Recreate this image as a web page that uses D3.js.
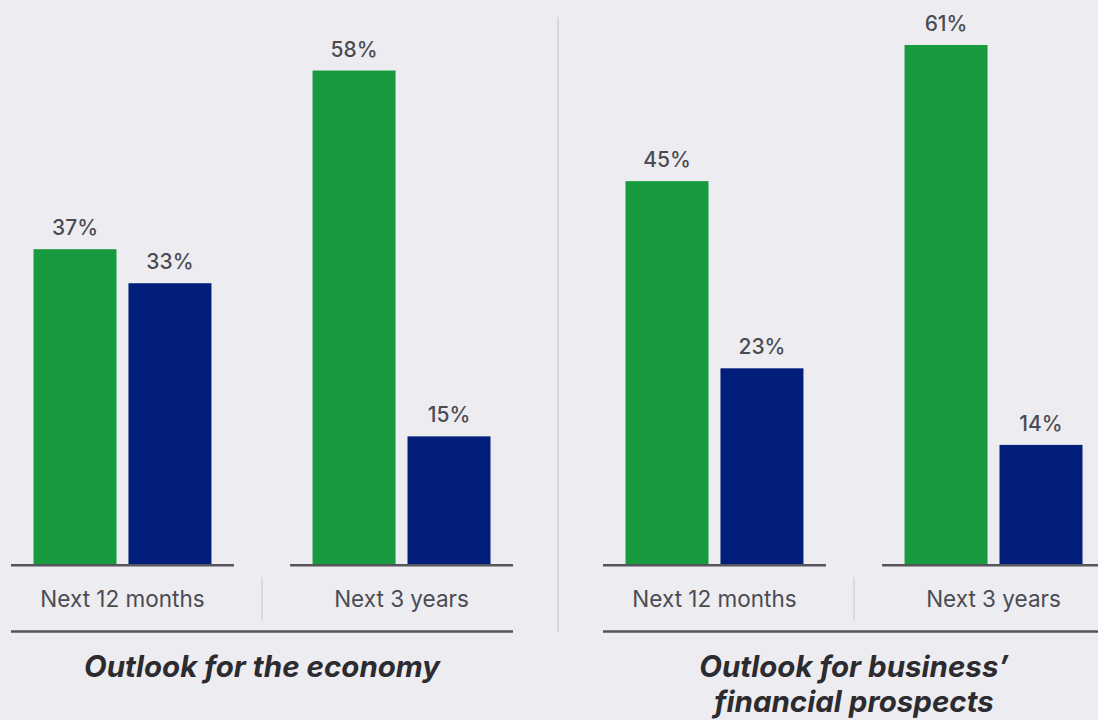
<!DOCTYPE html>
<html>
<head>
<meta charset="utf-8">
<script src="https://cdn.jsdelivr.net/npm/d3@7"></script>
<style>
  html, body { margin: 0; padding: 0; background: #edecf1; }
  svg { display: block; }
  text { font-family: Inter, "Noto Sans", sans-serif; }
</style>
</head>
<body>
<svg id="chart" width="1098" height="720"></svg>
<script>
// Survey outlook: share of respondents per horizon (%)
const panels = ["economy", "business"];
const panelTitles = [["Outlook for the economy"], ["Outlook for business\u2019", "financial prospects"]];
const periods = ["Next 12 months", "Next 3 years"];
const seriesKeys = ["optimistic", "pessimistic"];
const economyValues = [[37, 33], [58, 15]];       // [period][series]
const businessValues = [[45, 23], [61, 14]];
const panelValues = [economyValues, businessValues];

const colors = { optimistic: "#179b3e", pessimistic: "#001e7a" };
const ink = "#4b4b53";
const ruleColor = "#55555c";

const svg = d3.select("#chart");
const baseY = 564;

const y = d3.scaleLinear().domain([0, 61]).range([baseY, 45]);

const xPanel = d3.scaleBand().domain(panels).range([11, 1105]).paddingInner(0.152);
const xPeriod = d3.scaleBand().domain(periods).range([0, xPanel.bandwidth()]).paddingInner(0.201);
const xSeries = d3.scaleBand().domain(seriesKeys).range([0, xPeriod.bandwidth()])
  .paddingInner(0.126).paddingOuter(0.237);

// divider between the two panels
const divX = (xPanel(panels[0]) + xPanel.bandwidth() + xPanel(panels[1])) / 2;
svg.append("line")
  .attr("x1", divX).attr("x2", divX)
  .attr("y1", 17).attr("y2", 632)
  .attr("stroke", "#d2d1d8").attr("stroke-width", 1.5);

panels.forEach((p, pi) => {
  const g = svg.append("g").attr("transform", `translate(${xPanel(p)},0)`);
  const vals = panelValues[pi];

  periods.forEach((per, ki) => {
    const pg = g.append("g").attr("transform", `translate(${xPeriod(per)},0)`);
    const data = seriesKeys.map((s, si) => ({ key: s, value: vals[ki][si] }));

    pg.selectAll("rect").data(data).join("rect")
      .attr("x", d => xSeries(d.key))
      .attr("y", d => y(d.value))
      .attr("width", xSeries.bandwidth())
      .attr("height", d => baseY - y(d.value))
      .attr("fill", d => colors[d.key]);

    pg.selectAll("text.val").data(data).join("text")
      .attr("class", "val")
      .attr("x", d => xSeries(d.key) + xSeries.bandwidth() / 2)
      .attr("y", d => y(d.value) - 14)
      .attr("text-anchor", "middle")
      .attr("font-size", 21)
      .attr("font-weight", 500)
      .attr("fill", ink)
      .text(d => d.value + "%");

    // baseline under each period group
    pg.append("line")
      .attr("x1", 0).attr("x2", xPeriod.bandwidth())
      .attr("y1", baseY + 1.3).attr("y2", baseY + 1.3)
      .attr("stroke", ruleColor).attr("stroke-width", 2.6);

    pg.append("text")
      .attr("x", xPeriod.bandwidth() / 2)
      .attr("y", 607)
      .attr("text-anchor", "middle")
      .attr("font-size", 22.5)
      .attr("fill", ink)
      .text(per);
  });

  // separator between period labels
  const sepX = (xPeriod(periods[0]) + xPeriod.bandwidth() + xPeriod(periods[1])) / 2;
  g.append("line")
    .attr("x1", sepX).attr("x2", sepX)
    .attr("y1", 577).attr("y2", 621)
    .attr("stroke", "#d2d1d8").attr("stroke-width", 1.3);

  // rule above the panel title
  g.append("line")
    .attr("x1", 0).attr("x2", xPanel.bandwidth())
    .attr("y1", 631.5).attr("y2", 631.5)
    .attr("stroke", ruleColor).attr("stroke-width", 2.6);

  const title = g.append("text")
    .attr("text-anchor", "middle")
    .attr("font-size", 29.5)
    .attr("font-weight", 700)
    .attr("font-style", "italic")
    .attr("fill", "#2b2b30");
  panelTitles[pi].forEach((line, li) => {
    title.append("tspan")
      .attr("x", xPanel.bandwidth() / 2)
      .attr("y", 677 + li * 35)
      .text(line);
  });
});
</script>
</body>
</html>
